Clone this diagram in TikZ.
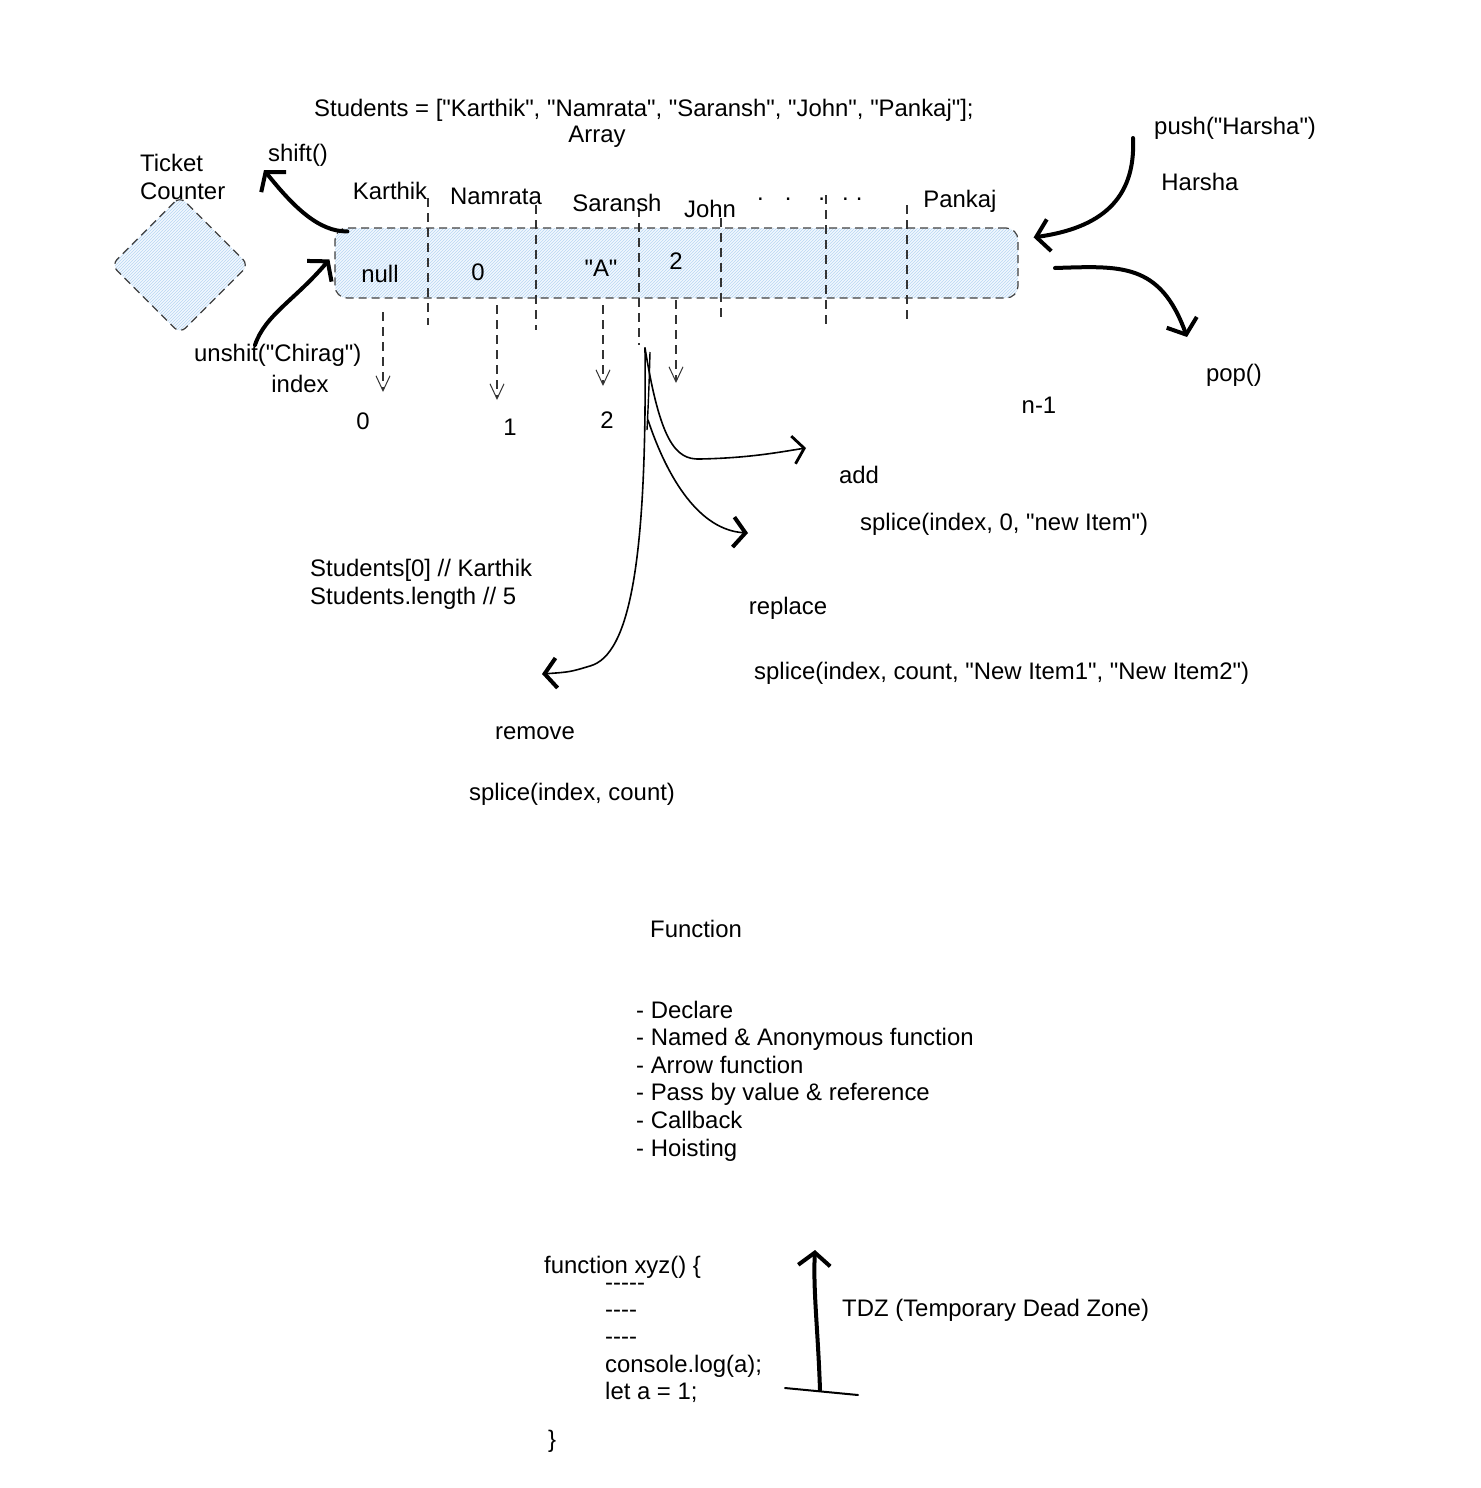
\documentclass[tikz,border=0pt]{standalone}
\usepackage{fontspec}
\setmainfont{Liberation Sans}[Ligatures=TeXOff]
\usetikzlibrary{arrows.meta,patterns}
\definecolor{azulclaro}{RGB}{242,248,254}
\definecolor{azulhachura}{RGB}{184,214,242}

\begin{document}
\begin{tikzpicture}[x=1pt, y=-1pt,
  every node/.style={font=\fontsize{23.9}{27.6}\selectfont, inner sep=0pt}
]
\tikzset{
  tracejado/.style={draw=black!75, line width=1.2pt, dash pattern=on 8pt off 5pt},
  hachura/.style={tracejado, preaction={fill=azulclaro}, pattern=north east lines, pattern color=azulhachura},
  divisoria/.style={draw=black!80, line width=1.1pt, dash pattern=on 9pt off 6pt},
  indice/.style={divisoria, -{Straight Barb[length=15pt, width=14pt, line width=1pt]}},
  seta/.style={line width=4pt, line cap=round, -{Straight Barb[length=13pt, width=32pt, line width=4pt]}},
  setafina/.style={line width=1.6pt, line cap=round, -{Straight Barb[length=12pt, width=30pt, line width=4pt]}}
}
\useasboundingbox (0,0) rectangle (1480,1488);

% array e balcao
\node[hachura, rounded corners=8pt, rotate=45, minimum size=97pt] (balcao) at (180,265) {};
\node[hachura, rounded corners=12pt, minimum width=683pt, minimum height=70pt] (caixa) at (676.5,263) {};
\foreach \x/\a/\b in {428/198/325, 536/205/330, 639/208/345, 721/218/320, 826/195/326, 907/205/324}
  \draw[divisoria] (\x,\a) -- (\x,\b);

\node[anchor=base west] (codigo) at (314,116) {Students = ["Karthik", "Namrata", "Saransh", "John", "Pankaj"];};
\node[anchor=base] (tipo) at (597,142) {Array};
\node[anchor=west, align=left] (balcaotxt) at (140,177) {Ticket\\Counter};

% nomes e valores
\node[anchor=base] (karthik) at (390,199) {Karthik};
\node[anchor=base] (namrata) at (496,204) {Namrata};
\node[anchor=base] (saransh) at (617,211) {Saransh};
\node[anchor=base] (john) at (710,217) {John};
\node[anchor=base west] (pontos) at (757,200) {.\hspace{21pt}.\hspace{27pt}.\hspace{17pt}.\hspace{7pt}.};
\node[anchor=base] (pankaj) at (960,207) {Pankaj};
\node[anchor=base] (v0) at (380,282) {null};
\node[anchor=base] (v1) at (478,280) {0};
\node[anchor=base] (v2) at (601,276) {"A"};
\node[anchor=base] (v3) at (676,269) {2};

% indices
\node[anchor=base] (i0) at (363,429) {0};
\node[anchor=base] (i1) at (510,435) {1};
\node[anchor=base] (i2) at (607,428) {2};
\node[anchor=base] (in) at (1039,413) {n-1};
\node[anchor=base] (index) at (300,392) {index};
\foreach \x/\a/\b in {383/312/392, 497/305/400, 603/305/386, 676/300/383}
  \draw[indice] (\x,\a) -- (\x,\b);

% metodos
\node[anchor=base west] (shift) at (268,161) {shift()};
\node[anchor=base west] (unshift) at (194,361) {unshit("Chirag")};
\node[anchor=base west] (push) at (1154,134) {push("Harsha")};
\node[anchor=base] (harsha) at (1200,190) {Harsha};
\node[anchor=base] (pop) at (1234,381) {pop()};

\coordinate (shiftfim) at (264,170);
\coordinate (unshiftini) at (255,345);
\coordinate (pushini) at (1133,138);
\coordinate (popini) at (1055,268);
\coordinate (popfim) at (1187,337);
\draw[seta] ([shift={(13,4)}]caixa.north west) .. controls (318,232) and (292,205) .. (shiftfim);
\draw[seta] (unshiftini) .. controls (265,315) and (295,300) .. ([shift={(-5,32)}]caixa.north west);
\draw[seta] (pushini) .. controls (1136,200) and (1100,228) .. ([shift={(15,10)}]caixa.north east);
\draw[seta] (popini) .. controls (1120,266) and (1160,262) .. (popfim);

% splice
\node[anchor=base west] (acesso) at (310,576) {Students[0] // Karthik};
\node[anchor=base west] (tamanho) at (310,604) {Students.length // 5};
\node[anchor=base] (add) at (859,483) {add};
\node[anchor=base west] (spliceadd) at (860,530) {splice(index, 0, "new Item")};
\node[anchor=base] (replace) at (788,614) {replace};
\node[anchor=base west] (splicerep) at (754,679) {splice(index, count, "New Item1", "New Item2")};
\node[anchor=base] (remove) at (535,739) {remove};
\node[anchor=base] (splicerem) at (572,800) {splice(index, count)};

\coordinate (origem) at (645,348);
\coordinate (addfim) at (806,448);
\coordinate (repfim) at (748,533);
\coordinate (remfim) at (542,674);
\draw[line width=1.4pt] (650,352) .. controls (649,390) and (648,410) .. (647,430);
\draw[setafina, -{Straight Barb[length=11pt, width=28pt, line width=2.8pt]}] (origem) .. controls (660,440) and (675,460) .. (700,459) .. controls (750,458) and (780,452) .. (addfim);
\draw[setafina] (648,420) .. controls (668,480) and (700,530) .. (repfim);
\draw[setafina] (origem) .. controls (647,560) and (630,655) .. (590,666) .. controls (570,672) .. (remfim);

% funcao
\node[anchor=base] (funcao) at (696,937) {Function};
\node[anchor=west, align=left] (topicos) at (636,1081) {- Declare\\- Named \& Anonymous function\\- Arrow function\\- Pass by value \& reference\\- Callback\\- Hoisting};

\node[anchor=base west] (c1) at (544,1273) {function xyz() \{};
\node[anchor=base west] (c2) at (605,1290) {-----};
\node[anchor=base west] (c3) at (605,1317) {----};
\node[anchor=base west] (c4) at (605,1344) {----};
\node[anchor=base west] (c5) at (605,1372) {console.log(a);};
\node[anchor=base west] (c6) at (605,1399) {let a = 1;};
\node[anchor=base west] (c7) at (548,1447) {\}};

\coordinate (tdzbase) at (820,1390);
\coordinate (tdztopo) at (815,1250);
\draw[line width=2pt, line cap=round] (785,1388) -- (858,1395);
\draw[seta] (tdzbase) .. controls (818,1330) and (813,1290) .. (tdztopo);
\node[anchor=base west] (tdz) at (842,1316) {TDZ (Temporary Dead Zone)};
\end{tikzpicture}
\end{document}
